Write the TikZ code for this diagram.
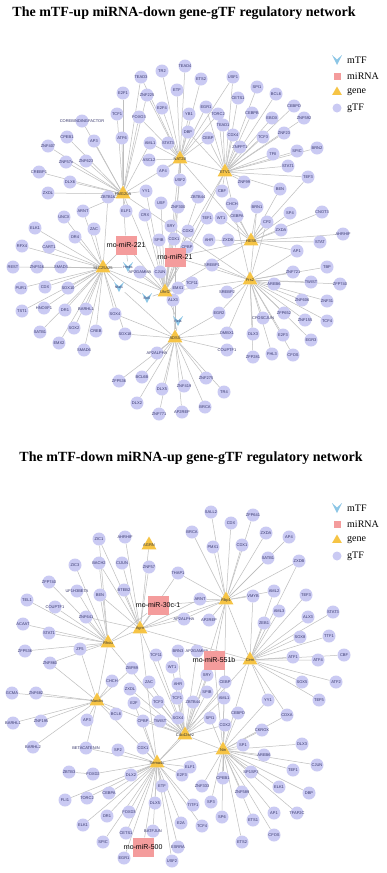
\documentclass[tikz,border=0pt]{standalone}
\usepackage{fontspec}
\setmainfont{Liberation Serif}
\setsansfont{Liberation Sans}
\usetikzlibrary{shapes.geometric,calc}
\definecolor{gtfc}{HTML}{CACAF3}
\definecolor{genec}{HTML}{F6C445}
\definecolor{mirc}{HTML}{F49C9C}
\definecolor{mtfc}{HTML}{8CC6E6}
\definecolor{edgec}{HTML}{BEBEBE}
\definecolor{labc}{HTML}{35356A}
\pgfdeclarelayer{back}
\pgfdeclarelayer{bg}
\pgfsetlayers{back,bg,main}
\newcommand\gtfN[4]{\node[gtf] (#1) at (#2,#3) {\makebox[0pt]{#4}};}
\newcommand\geneN[4]{\node[gene] (#1) at (#2,#3) {\makebox[0pt]{#4}};}
\newcommand\mtfN[4]{\node[mtf] (#1) at (#2,#3) {\makebox[0pt]{#4}};}
\newcommand\mirN[4]{\node[mirna] (#1) at (#2,#3) {\makebox[0pt]{#4}};}
\begin{document}
\begin{tikzpicture}[x=1pt,y=-1pt,
  gtf/.style={circle,fill=gtfc,minimum size=13pt,inner sep=0pt,text=labc,font=\sffamily\fontsize{4}{4}\selectfont},
  gene/.style={regular polygon,regular polygon sides=3,fill=genec,minimum size=17pt,inner sep=0pt,text=black!80,font=\sffamily\fontsize{4}{4}\selectfont},
  mirna/.style={rectangle,fill=mirc,minimum width=21pt,minimum height=19pt,inner sep=0pt,text=black,font=\sffamily\fontsize{7}{7}\selectfont},
  mtf/.style={rectangle,minimum size=11pt,inner sep=0pt,text=labc,font=\sffamily\fontsize{3.5}{3.5}\selectfont,
    path picture={\fill[mtfc] ([shift={(-5pt,5pt)}]path picture bounding box.center) -- ([shift={(0pt,0.5pt)}]path picture bounding box.center) -- ([shift={(5pt,5pt)}]path picture bounding box.center) -- ([shift={(0pt,-5pt)}]path picture bounding box.center) -- cycle;}},
  edge/.style={draw=edgec,line width=0.5pt},
  titletext/.style={font=\bfseries\fontsize{14}{16}\selectfont},
  legtext/.style={anchor=west,font=\fontsize{10}{12}\selectfont,inner sep=0pt},
  legmtf/.style={mtf},
  leggtf/.style={circle,fill=gtfc,minimum size=9pt,inner sep=0pt},
  leggene/.style={regular polygon,regular polygon sides=3,fill=genec,minimum size=11pt,inner sep=0pt},
  legmir/.style={rectangle,fill=mirc,minimum size=7pt,inner sep=0pt}
]
\useasboundingbox (0,0) rectangle (386,873);
\begin{pgfonlayer}{back}
\fill[white] (0,0) rectangle (386,873);
\end{pgfonlayer}

% ---------------- titles ----------------
\node[titletext] (title1) at (184,13) {The mTF-up miRNA-down gene-gTF regulatory network};
\node[titletext] (title2) at (191,458) {The mTF-down miRNA-up gene-gTF regulatory network};

% ---------------- legends ----------------
\node[legmtf] (l1a) at (337,60) {};
\node[legtext] (l1at) at (347,60) {mTF};
\node[legmir] (l1b) at (337,76) {};
\node[legtext] (l1bt) at (347,76) {miRNA};
\node[leggene] (l1c) at (337,92) {};
\node[legtext] (l1ct) at (347,92) {gene};
\node[leggtf] (l1d) at (337,108) {};
\node[legtext] (l1dt) at (347,108) {gTF};

\node[legmtf] (l2a) at (337,508) {};
\node[legtext] (l2at) at (347,508) {mTF};
\node[legmir] (l2b) at (337,524) {};
\node[legtext] (l2bt) at (347,524) {miRNA};
\node[leggene] (l2c) at (337,540) {};
\node[legtext] (l2ct) at (347,540) {gene};
\node[leggtf] (l2d) at (337,556) {};
\node[legtext] (l2dt) at (347,556) {gTF};

% ---------------- top network: gTFs ----------------
\gtfN{tE2F1}{123}{93}{E2F1}
\gtfN{tTCF1}{117}{114}{TCF1}
\gtfN{tCORE}{82}{121}{COREBINDINGFACTOR}
\gtfN{tCPEB1}{67}{137}{CPEB1}
\gtfN{tAP3}{94}{141}{AP3}
\gtfN{tATF6}{122}{138}{ATF6}
\gtfN{tZNF407}{48}{146}{ZNF407}
\gtfN{tZNF57x}{66}{162}{ZNF57x}
\gtfN{tZNF623}{86}{161}{ZNF623}
\gtfN{tCREBP1}{39}{172}{CREBP1}
\gtfN{tDLX6}{70}{182}{DLX6}
\gtfN{tZXDL}{48}{193}{ZXDL}
\gtfN{tZBTB16}{108}{197}{ZBTB16}
\gtfN{tARNT}{83}{211}{ARNT}
\gtfN{tUNCX}{64}{217}{UNCX}
\gtfN{tELF1}{126}{211}{ELF1}
\gtfN{tTEAD4}{185}{66}{TEAD4}
\gtfN{tTR2}{162}{71}{TR2}
\gtfN{tTEAD3}{141}{77}{TEAD3}
\gtfN{tETS2}{201}{79}{ETS2}
\gtfN{tUSF1}{233}{77}{USF1}
\gtfN{tZNF225}{147}{95}{ZNF225}
\gtfN{tETF}{177}{90}{ETF}
\gtfN{tCETS1}{238}{98}{CETS1}
\gtfN{tSPI1}{257}{87}{SPI1}
\gtfN{tE2F4}{162}{108}{E2F4}
\gtfN{tFOXO3}{139}{117}{FOXO3}
\gtfN{tEGR1}{206}{107}{EGR1}
\gtfN{tYB1}{189}{114}{YB1}
\gtfN{tTORC2}{218}{114}{TORC2}
\gtfN{tCEBPB}{252}{113}{CEBPB}
\gtfN{tTEAD1}{223}{125}{TEAD1}
\gtfN{tDBP}{188}{132}{DBP}
\gtfN{tCDX4}{233}{135}{CDX4}
\gtfN{tCEBP}{208}{138}{CEBP}
\gtfN{tAML1}{150}{143}{AML1}
\gtfN{tSTAT3}{168}{143}{STAT3}
\gtfN{tZNFPT1}{240}{147}{ZNFPT1}
\gtfN{tASCL2}{149}{160}{ASCL2}
\gtfN{tAP4}{163}{171}{AP4}
\gtfN{tUSF2}{180}{180}{USF2}
\gtfN{tZNF99}{244}{182}{ZNF99}
\gtfN{tYY1}{146}{191}{YY1}
\gtfN{tCBF}{222}{191}{CBF}
\gtfN{tZBTB44}{198}{197}{ZBTB44}
\gtfN{tUSF}{161}{203}{USF}
\gtfN{tZNF300}{178}{207}{ZNF300}
\gtfN{tCHCH}{232}{204}{CHCH}
\gtfN{tBRN1}{257}{207}{BRN1}
\gtfN{tCRX}{145}{215}{CRX}
\gtfN{tTEF1}{207}{218}{TEF1}
\gtfN{tWT1}{221}{218}{WT1}
\gtfN{tCEBPA}{237}{216}{CEBPA}
\gtfN{tBCL6}{276}{94}{BCL6}
\gtfN{tCEBPD}{294}{106}{CEBPD}
\gtfN{tEBOX}{272}{118}{EBOX}
\gtfN{tZNF592}{304}{118}{ZNF592}
\gtfN{tTCF3}{263}{137}{TCF3}
\gtfN{tZNF23}{284}{133}{ZNF23}
\gtfN{tTFII}{273}{154}{TFII}
\gtfN{tSPIC}{297}{151}{SPIC}
\gtfN{tBRN2}{317}{148}{BRN2}
\gtfN{tSTAT1}{288}{166}{STAT1}
\gtfN{tTEF3}{308}{177}{TEF3}
\gtfN{tBEN}{280}{189}{BEN}
\gtfN{tSP4}{290}{213}{SP4}
\gtfN{tCNOT3}{322}{212}{CNOT3}
\gtfN{tCP2}{267}{222}{CP2}
\gtfN{tELK1}{35}{228}{ELK1}
\gtfN{tZAC}{94}{229}{ZAC}
\gtfN{tDR4}{75}{237}{DR4}
\gtfN{tRFX4}{22}{246}{RFX4}
\gtfN{tCART1}{49}{247}{CART1}
\gtfN{tREST}{13}{267}{REST}
\gtfN{tZNF516}{37}{267}{ZNF516}
\gtfN{tSMAD3}{61}{267}{SMAD3}
\gtfN{tPUR1}{21}{288}{PUR1}
\gtfN{tCDX}{45}{287}{CDX}
\gtfN{tSOX10}{68}{288}{SOX10}
\gtfN{tTST1}{22}{311}{TST1}
\gtfN{tHNOXF1}{44}{308}{HNOXF1}
\gtfN{tDR1}{65}{310}{DR1}
\gtfN{tBARHL1}{86}{309}{BARHL1}
\gtfN{tSOX4}{115}{314}{SOX4}
\gtfN{tSATB1}{40}{332}{SATB1}
\gtfN{tSOX2}{74}{328}{SOX2}
\gtfN{tCREB}{96}{331}{CREB}
\gtfN{tSOX18}{125}{334}{SOX18}
\gtfN{tEMX2}{59}{343}{EMX2}
\gtfN{tSMAD6}{84}{350}{SMAD6}
\gtfN{tZFP536}{119}{381}{ZFP536}
\gtfN{tSRY}{171}{226}{SRY}
\gtfN{tCDX2}{188}{231}{CDX2}
\gtfN{tSPIB}{159}{240}{SPIB}
\gtfN{tCDX1}{174}{239}{CDX1}
\gtfN{tAHR}{209}{240}{AHR}
\gtfN{tZXDB}{228}{240}{ZXDB}
\gtfN{tCPBP}{187}{247}{CPBP}
\gtfN{tSREBP1}{212}{265}{SREBP1}
\gtfN{tAP2GAMMA}{140}{272}{AP2GAMMA}
\gtfN{tCJUN}{160}{272}{CJUN}
\gtfN{tTCF11}{192}{283}{TCF11}
\gtfN{tEMX1}{178}{288}{EMX1}
\gtfN{tALX3}{173}{300}{ALX3}
\gtfN{tSREBP2}{227}{292}{SREBP2}
\gtfN{tEGR2}{219}{313}{EGR2}
\gtfN{tDMBX1}{227}{333}{DMBX1}
\gtfN{tDLX3}{253}{334}{DLX3}
\gtfN{tAP2ALPHA}{157}{353}{AP2ALPHA}
\gtfN{tCOUPTF1}{227}{350}{COUPTF1}
\gtfN{tZFP281}{253}{357}{ZFP281}
\gtfN{tBCL6B}{142}{377}{BCL6B}
\gtfN{tZNF275}{206}{378}{ZNF275}
\gtfN{tDLX5}{162}{389}{DLX5}
\gtfN{tZNF419}{184}{386}{ZNF419}
\gtfN{tTR4}{224}{392}{TR4}
\gtfN{tDLX2}{137}{403}{DLX2}
\gtfN{tBRCA}{205}{407}{BRCA}
\gtfN{tZNF771}{159}{414}{ZNF771}
\gtfN{tAP2REP}{182}{412}{AP2REP}
\gtfN{tZXDA}{281}{230}{ZXDA}
\gtfN{tAHRHIF}{343}{234}{AHRHIF}
\gtfN{tSTAT}{320}{242}{STAT}
\gtfN{tAP1}{297}{251}{AP1}
\gtfN{tTBP}{327}{267}{TBP}
\gtfN{tZNF721}{293}{272}{ZNF721}
\gtfN{tAREB6}{274}{284}{AREB6}
\gtfN{tTWIST}{311}{282}{TWIST}
\gtfN{tZFP740}{340}{284}{ZFP740}
\gtfN{tZNF606}{302}{300}{ZNF606}
\gtfN{tZNF31}{327}{301}{ZNF31}
\gtfN{tZFP652}{284}{313}{ZFP652}
\gtfN{tCFOSCJUN}{263}{318}{CFOSCJUN}
\gtfN{tZNF155}{305}{320}{ZNF155}
\gtfN{tTCF4}{327}{321}{TCF4}
\gtfN{tE2F3}{283}{335}{E2F3}
\gtfN{tEGR3}{311}{340}{EGR3}
\gtfN{tFHL3}{272}{354}{FHL3}
\gtfN{tCFOS}{293}{355}{CFOS}

% top: genes, mTFs, miRNAs
\geneN{tHMG}{123}{194}{HMG20A}
\geneN{tNR2}{180}{159}{NAT2B}
\geneN{tETV1}{225}{172}{ETV1}
\geneN{tSLC}{103}{268}{SLC25A25}
\geneN{tHES}{251}{241}{HES6}
\geneN{tFOS}{250}{280}{Frs2}
\geneN{tUHR}{165}{292}{Uhrf2}
\geneN{tADS}{175}{338}{ADSS}
\mtfN{tHMBS}{128}{267}{Hmbs}
\mtfN{tNFAT}{119}{287}{Nfat1}
\mtfN{tBCL}{147}{298}{Bcl6}
\mtfN{tREL}{178}{321}{Rela}
\mirN{tMIR221}{126}{245}{rno-miR-221}
\mirN{tMIR21}{175}{257}{rno-miR-21}

% ---------------- bottom network: gTFs ----------------
\gtfN{bZIC1}{99}{539}{ZIC1}
\gtfN{bAHRHIF}{125}{537}{AHRHIF}
\gtfN{bZIC3}{75}{565}{ZIC3}
\gtfN{bBACH2}{99}{563}{BACH2}
\gtfN{bCIJUN}{122}{563}{CIJUN}
\gtfN{bZFP740}{49}{582}{ZFP740}
\gtfN{bUF1H3BETA}{77}{591}{UF1H3BETA}
\gtfN{bBEN}{100}{595}{BEN}
\gtfN{bBTEB2}{124}{590}{BTEB2}
\gtfN{bTEL1}{27}{600}{TEL1}
\gtfN{bCOUPTF1}{55}{607}{COUPTF1}
\gtfN{bZNF641}{86}{617}{ZNF641}
\gtfN{bACAAT}{23}{624}{ACAAT}
\gtfN{bSTAT1}{49}{633}{STAT1}
\gtfN{bZFP536}{25}{651}{ZFP536}
\gtfN{bZF5}{80}{649}{ZF5}
\gtfN{bSALL2}{211}{512}{SALL2}
\gtfN{bZFP641}{253}{515}{ZFP641}
\gtfN{bCDX}{231}{523}{CDX}
\gtfN{bBRCA}{192}{532}{BRCA}
\gtfN{bPMX1}{213}{547}{PMX1}
\gtfN{bCDXb}{242}{545}{CDX1}
\gtfN{bZNF57}{149}{567}{ZNF57}
\gtfN{bTHAP1}{178}{573}{THAP1}
\gtfN{bARNT}{200}{599}{ARNT}
\gtfN{bVMYB}{253}{596}{VMYB}
\gtfN{bAP2ALPHA}{184}{619}{AP2ALPHA}
\gtfN{bAP2REP}{209}{620}{AP2REP}
\gtfN{bBRN3}{178}{651}{BRN3}
\gtfN{bAP2GAMMA}{197}{651}{AP2GAMMA}
\gtfN{bZXDA}{266}{533}{ZXDA}
\gtfN{bAP4}{289}{537}{AP4}
\gtfN{bSATB1}{268}{558}{SATB1}
\gtfN{bZXDB}{299}{561}{ZXDB}
\gtfN{bAML2}{274}{591}{AML2}
\gtfN{bTEF3}{306}{595}{TEF3}
\gtfN{bAML3}{279}{611}{AML3}
\gtfN{bALX3}{308}{617}{ALX3}
\gtfN{bSTAT3}{333}{612}{STAT3}
\gtfN{bZEB1}{264}{623}{ZEB1}
\gtfN{bSOX8}{300}{637}{SOX8}
\gtfN{bTTF1}{329}{636}{TTF1}
\gtfN{bZNF860}{50}{663}{ZNF860}
\gtfN{bGCMA}{12}{693}{GCMA}
\gtfN{bZNF682}{36}{693}{ZNF682}
\gtfN{bCHCH}{112}{681}{CHCH}
\gtfN{bZBP89}{132}{668}{ZBP89}
\gtfN{bZXDL}{130}{689}{ZXDL}
\gtfN{bE2F}{134}{703}{E2F}
\gtfN{bBARHL1}{13}{723}{BARHL1}
\gtfN{bZNF195}{41}{721}{ZNF195}
\gtfN{bAP3}{87}{720}{AP3}
\gtfN{bBCL6}{116}{714}{BCL6}
\gtfN{bBARHL2}{33}{747}{BARHL2}
\gtfN{bBETACAT}{86}{748}{BETACATENIN}
\gtfN{bSP2}{118}{750}{SP2}
\gtfN{bZBTB3}{69}{772}{ZBTB3}
\gtfN{bFOXD2}{93}{774}{FOXD2}
\gtfN{bDLX2}{131}{775}{DLX2}
\gtfN{bFLI1}{65}{800}{FLI1}
\gtfN{bTORC2}{87}{798}{TORC2}
\gtfN{bCEBPA}{109}{793}{CEBPA}
\gtfN{bDR1}{107}{816}{DR1}
\gtfN{bFOXD3}{129}{812}{FOXD3}
\gtfN{bELK1}{83}{825}{ELK1}
\gtfN{bCETS1}{126}{833}{CETS1}
\gtfN{bSPIC}{103}{842}{SPIC}
\gtfN{bEGR1}{124}{858}{EGR1}
\gtfN{bTCF11}{156}{655}{TCF11}
\gtfN{bWT1}{172}{667}{WT1}
\gtfN{bSRY}{207}{675}{SRY}
\gtfN{bCEBP}{225}{682}{CEBP}
\gtfN{bZAC}{149}{682}{ZAC}
\gtfN{bAHR}{178}{684}{AHR}
\gtfN{bSPIB}{207}{692}{SPIB}
\gtfN{bAML1}{224}{698}{AML1}
\gtfN{bTCF1}{177}{698}{TCF1}
\gtfN{bTCF3}{158}{702}{TCF3}
\gtfN{bZBTB44}{193}{702}{ZBTB44}
\gtfN{bCEBPD}{238}{713}{CEBPD}
\gtfN{bCPBP}{143}{721}{CPBP}
\gtfN{bTWIST}{160}{721}{TWIST}
\gtfN{bSOX4}{178}{718}{SOX4}
\gtfN{bSPI1}{210}{718}{SPI1}
\gtfN{bCDX2}{225}{725}{CDX2}
\gtfN{bCKROX}{262}{730}{CKROX}
\gtfN{bCDX1}{143}{748}{CDX1}
\gtfN{bSP1}{243}{745}{SP1}
\gtfN{bELF1}{190}{767}{ELF1}
\gtfN{bSP1SP3}{251}{772}{SP1SP3}
\gtfN{bCPEB1}{223}{778}{CPEB1}
\gtfN{bE2F3}{182}{775}{E2F3}
\gtfN{bZNF333}{202}{786}{ZNF333}
\gtfN{bETF}{162}{786}{ETF}
\gtfN{bZNF589}{242}{792}{ZNF589}
\gtfN{bSP3}{211}{802}{SP3}
\gtfN{bDLX5}{155}{803}{DLX5}
\gtfN{bTITF1}{193}{805}{TITF1}
\gtfN{bSP6}{222}{817}{SP6}
\gtfN{bETS1}{253}{820}{ETS1}
\gtfN{bE2A}{181}{823}{E2A}
\gtfN{bTCF4}{202}{826}{TCF4}
\gtfN{bBATFJUN}{153}{831}{BATFJUN}
\gtfN{bETS2}{242}{842}{ETS2}
\gtfN{bESRRA}{178}{847}{ESRRA}
\gtfN{bUSF2}{172}{861}{USF2}
\gtfN{bATF1}{293}{657}{ATF1}
\gtfN{bATF4}{318}{660}{ATF4}
\gtfN{bCBF}{344}{655}{CBF}
\gtfN{bSOX5}{302}{682}{SOX5}
\gtfN{bATF2}{336}{682}{ATF2}
\gtfN{bTEF5}{319}{700}{TEF5}
\gtfN{bYY1}{268}{700}{YY1}
\gtfN{bCDXA}{287}{715}{CDXA}
\gtfN{bDLX3}{302}{744}{DLX3}
\gtfN{bAREB6}{264}{755}{AREB6}
\gtfN{bCJUN}{317}{765}{CJUN}
\gtfN{bTEF1}{293}{770}{TEF1}
\gtfN{bELK1b}{279}{787}{ELK1}
\gtfN{bDBP}{309}{793}{DBP}
\gtfN{bAP1}{274}{813}{AP1}
\gtfN{bTFAP2C}{297}{813}{TFAP2C}
\gtfN{bCFOS}{274}{835}{CFOS}

% bottom: genes, miRNAs
\geneN{bAGRN}{149}{545}{AGRN}
\geneN{bRHOU}{108}{643}{Rhou}
\geneN{bAGM}{140}{629}{Agrn}
\geneN{bRBP}{226}{600}{Rbp1}
\geneN{bCEM}{250}{660}{Cem}
\geneN{bMARCKS}{97}{701}{Marcks}
\geneN{bCDC}{185}{735}{Cdc42se2}
\geneN{bNIN}{223}{750}{Nin}
\geneN{bSEMA}{157}{763}{Sema4c}
\mirN{bMIR30}{158}{605}{rno-miR-30c-1}
\mirN{bMIR551}{214}{660}{rno-miR-551b}
\mirN{bMIR500}{143}{847}{rno-miR-500}

% ---------------- edges ----------------
\begin{pgfonlayer}{bg}
\foreach \n in {tE2F1,tTCF1,tCORE,tCPEB1,tAP3,tATF6,tZNF407,tZNF57x,tZNF623,tCREBP1,tDLX6,tZXDL,tZBTB16,tARNT,tELF1,tFOXO3,tYY1,tTEAD3,tZNF225,tAML1}
  \draw[edge] (tHMG) -- (\n);
\foreach \n in {tTEAD3,tTR2,tTEAD4,tETS2,tZNF225,tETF,tE2F4,tFOXO3,tYB1,tEGR1,tDBP,tAML1,tSTAT3,tASCL2,tAP4,tUSF2,tCEBP,tUSF1,tTORC2}
  \draw[edge] (tNR2) -- (\n);
\foreach \n in {tUSF1,tCETS1,tSPI1,tBCL6,tCEBPB,tCEBPD,tEBOX,tZNF592,tTCF3,tZNF23,tTFII,tSPIC,tBRN2,tSTAT1,tTEF3,tBEN,tTORC2,tTEAD1,tCDX4,tZNFPT1,tZNF99,tCBF,tEGR1,tCEBP,tDBP}
  \draw[edge] (tETV1) -- (\n);
\foreach \n in {tUNCX,tELK1,tZAC,tDR4,tRFX4,tCART1,tREST,tZNF516,tSMAD3,tPUR1,tCDX,tSOX10,tTST1,tHNOXF1,tDR1,tBARHL1,tSATB1,tSOX2,tCREB,tEMX2,tSMAD6,tSOX4,tARNT,tZBTB16,tSOX18}
  \draw[edge] (tSLC) -- (\n);
\foreach \n in {tCP2,tZXDA,tAHRHIF,tSTAT,tAP1,tCHCH,tCEBPA,tBRN1,tSP4,tCNOT3,tZXDB,tAHR,tBEN,tTEF3,tWT1}
  \draw[edge] (tHES) -- (\n);
\foreach \n in {tZNF721,tTBP,tAREB6,tTWIST,tZFP740,tZNF606,tZNF31,tZFP652,tZNF155,tTCF4,tCFOSCJUN,tE2F3,tEGR3,tDLX3,tZFP281,tFHL3,tCFOS,tSREBP2,tSREBP1,tEGR2,tDMBX1,tAP1,tBRN1,tCP2}
  \draw[edge] (tFOS) -- (\n);
\foreach \n in {tTCF11,tEMX1,tALX3,tCJUN,tAP2GAMMA,tCPBP,tCDX1,tSPIB,tSRY,tCDX2,tUSF,tZNF300,tCRX,tZBTB44,tTEF1,tUSF2,tYY1}
  \draw[edge] (tUHR) -- (\n);
\foreach \n in {tZFP536,tDLX2,tBCL6B,tDLX5,tZNF419,tZNF771,tAP2REP,tBRCA,tTR4,tZNF275,tAP2ALPHA,tCOUPTF1,tDMBX1,tSOX18,tSOX4,tEGR2,tALX3}
  \draw[edge] (tADS) -- (\n);
\foreach \a/\b in {tMIR221/tSLC,tMIR221/tHMG,tMIR221/tUHR,tMIR221/tHMBS,tMIR21/tUHR,tMIR21/tFOS,tMIR21/tHES,tMIR21/tETV1,tMIR21/tNR2,tMIR21/tADS,tHMBS/tSLC,tNFAT/tSLC,tNFAT/tADS,tBCL/tUHR,tBCL/tSLC,tREL/tADS,tREL/tUHR,tHMG/tUHR,tNR2/tUHR,tETV1/tUHR,tHES/tUHR,tFOS/tUHR,tSLC/tUHR,tHMG/tNR2,tETV1/tFOS,tNR2/tHES,tHMG/tFOS,tNR2/tETV1,tHMBS/tUHR}
  \draw[edge] (\a) -- (\b);

\foreach \n in {bZIC3,bZFP740,bUF1H3BETA,bTEL1,bCOUPTF1,bZNF641,bACAAT,bSTAT1,bZFP536,bZF5,bBEN,bBACH2,bZIC1,bZNF860}
  \draw[edge] (bRHOU) -- (\n);
\foreach \n in {bAHRHIF,bCIJUN,bBTEB2,bZNF57,bAGRN,bZIC1,bBACH2,bTHAP1,bAP2ALPHA,bBEN,bARNT,bZNF641}
  \draw[edge] (bAGM) -- (\n);
\foreach \n in {bSALL2,bZFP641,bCDX,bBRCA,bPMX1,bCDXb,bZXDA,bAP4,bSATB1,bZXDB,bARNT,bTHAP1,bVMYB,bAML2,bAP2REP,bAP2ALPHA}
  \draw[edge] (bRBP) -- (\n);
\foreach \n in {bAML2,bAML3,bTEF3,bALX3,bSTAT3,bZEB1,bSOX8,bTTF1,bATF1,bATF4,bCBF,bSOX5,bATF2,bTEF5,bYY1,bCDXA,bVMYB,bZXDB}
  \draw[edge] (bCEM) -- (\n);
\foreach \n in {bZNF860,bGCMA,bZNF682,bBARHL1,bZNF195,bAP3,bBARHL2,bBETACAT,bCHCH,bBCL6,bZF5,bZBP89}
  \draw[edge] (bMARCKS) -- (\n);
\foreach \n in {bTCF11,bWT1,bSRY,bCEBP,bZAC,bAHR,bSPIB,bTCF1,bTCF3,bZBTB44,bSOX4,bSPI1,bTWIST,bCPBP,bCDX2,bBRN3,bAP2GAMMA,bE2F,bZXDL,bAML1}
  \draw[edge] (bCDC) -- (\n);
\foreach \n in {bAML1,bCEBPD,bCDX2,bSP1,bCKROX,bAREB6,bDLX3,bCJUN,bTEF1,bSP1SP3,bCPEB1,bZNF589,bELK1b,bDBP,bAP1,bTFAP2C,bSP6,bETS1,bCFOS,bETS2,bSP3,bZNF333,bYY1,bCDXA,bSPI1}
  \draw[edge] (bNIN) -- (\n);
\foreach \n in {bCDX1,bDLX2,bSP2,bFOXD2,bCEBPA,bTORC2,bFLI1,bDR1,bELK1,bFOXD3,bCETS1,bSPIC,bEGR1,bBATFJUN,bESRRA,bUSF2,bDLX5,bETF,bE2A,bTITF1,bTCF4,bE2F3,bELF1,bBETACAT,bE2F,bCPBP}
  \draw[edge] (bSEMA) -- (\n);
\foreach \a/\b in {bZBTB3/bFOXD2,bMIR30/bAGM,bMIR30/bRBP,bMIR30/bRHOU,bMIR551/bCEM,bMIR551/bCDC,bMIR551/bNIN,bMIR551/bRBP,bMIR500/bSEMA,bRHOU/bAGM,bAGM/bRBP,bRBP/bCEM,bAGM/bCDC,bRHOU/bMARCKS,bMARCKS/bSEMA,bSEMA/bCDC,bCDC/bNIN,bNIN/bCEM,bSEMA/bNIN,bRBP/bCDC,bAGM/bSEMA,bRHOU/bCDC,bMARCKS/bCDC,bCEM/bSEMA,bAGM/bCEM,bRBP/bNIN}
  \draw[edge] (\a) -- (\b);
\end{pgfonlayer}
\end{tikzpicture}
\end{document}
